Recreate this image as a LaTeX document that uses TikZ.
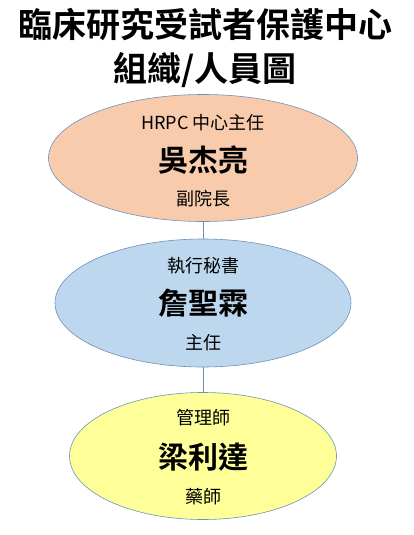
\documentclass[tikz,border=0pt]{standalone}
\usepackage{fontspec}
\setmainfont{Noto Sans CJK TC}[BoldFont={Noto Sans CJK TC Bold}]
\usetikzlibrary{shapes.geometric}
\definecolor{rimblue}{RGB}{110,145,185}
\definecolor{headorange}{RGB}{248,203,173}
\definecolor{secblue}{RGB}{189,215,238}
\definecolor{mgryellow}{RGB}{255,255,153}

\begin{document}
\begin{tikzpicture}[x=1pt, y=-1pt,
    main/.style = {draw=rimblue, line width=0.6pt, ellipse, inner sep=0pt},
    title/.style = {font=\fontsize{34}{36}\selectfont\bfseries},
    role/.style = {font=\fontsize{18}{20}\selectfont},
    person/.style = {font=\fontsize{30}{32}\selectfont\bfseries}]
        \useasboundingbox (0, 0) rectangle (414, 535);

        \node at (205, 25) [title] (t1) {臨床研究受試者保護中心};
        \node at (205, 70) [title] (t2) {組織/人員圖};

        \node at (203, 158) [main, fill=headorange, minimum width=309, minimum height=127] (director) {};
        \node at (203, 303) [main, fill=secblue, minimum width=296, minimum height=128] (secretary) {};
        \node at (203, 456) [main, fill=mgryellow, minimum width=267, minimum height=127] (manager) {};

        \node at (203, 123) [role] (d1) {HRPC 中心主任};
        \node at (203, 160) [person] (d2) {吳杰亮};
        \node at (203, 199) [role] (d3) {副院長};
        \node at (203, 266) [role] (s1) {執行秘書};
        \node at (203, 303) [person] (s2) {詹聖霖};
        \node at (203, 343) [role] (s3) {主任};
        \node at (203, 418) [role] (m1) {管理師};
        \node at (203, 457) [person] (m2) {梁利達};
        \node at (203, 497) [role] (m3) {藥師};

        \path[draw, rimblue, line width=0.6pt]
        (director) edge (secretary)
        (secretary) edge (manager);
    \end{tikzpicture}
\end{document}
